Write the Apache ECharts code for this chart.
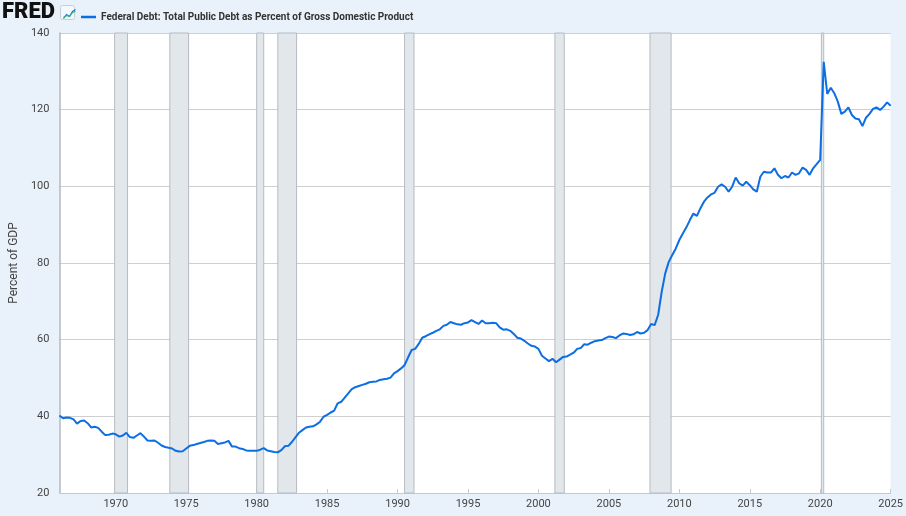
<!DOCTYPE html>
<html>
<head>
<meta charset="utf-8">
<script src="https://cdn.jsdelivr.net/npm/echarts@6/dist/echarts.min.js"></script>
<style>
html,body{margin:0;padding:0;background:#e9f1fa;}
#chart{width:906px;height:516px;}
</style>
</head>
<body>
<div id="chart"></div>
<script>
// Quarterly series, first quarter = 1966 Q1
const startYear = 1966;
const seriesName = 'Federal Debt: Total Public Debt as Percent of Gross Domestic Product';
const values1966_1975 = [40.2,39.5,39.7,39.6, 39.2,38.1,38.8,38.9, 38.2,37.1,37.3,37.0, 36.0,35.1,35.2,35.5,
  35.3,34.7,35.0,35.7, 34.6,34.4,35.0,35.6, 34.7,33.7,33.6,33.7, 33.1,32.4,32.0,31.8, 31.6,31.0,30.8,30.9, 31.6,32.3,32.5,32.8];
const values1976_1985 = [33.05,33.3,33.6,33.7, 33.6,32.8,33.0,33.2, 33.6,32.1,32.1,31.7, 31.5,31.1,31.0,31.0,
  31.0,31.3,31.7,31.1, 30.9,30.7,30.6,31.2, 32.2,32.3,33.3,34.5, 35.7,36.4,37.1,37.3, 37.4,37.9,38.6,39.9, 40.4,41.0,41.5,43.4];
const values1986_1995 = [43.8,44.9,46.0,47.1, 47.6,47.9,48.2,48.5, 48.9,49.0,49.1,49.5, 49.7,49.8,50.1,51.2,
  51.8,52.5,53.4,55.4, 57.3,57.6,58.9,60.5, 60.9,61.4,61.8,62.3, 62.7,63.6,63.9,64.6, 64.3,64.0,63.9,64.3, 64.5,65.1,64.6,64.1];
const values1996_2005 = [65.0,64.3,64.3,64.4, 64.3,63.2,62.6,62.7, 62.3,61.5,60.5,60.3, 59.7,59.0,58.4,58.2,
  57.6,55.8,55.1,54.4, 55.0,54.1,54.8,55.5, 55.6,56.1,56.6,57.6, 57.8,58.8,58.7,59.2, 59.6,59.8,59.9,60.4, 60.8,60.7,60.4,61.1];
const values2006_2015 = [61.6,61.5,61.2,61.4, 62.0,61.6,61.8,62.5, 64.1,63.8,66.5,72.5, 77.3,80.3,82.1,83.8,
  86.0,87.7,89.3,91.2, 92.9,92.3,94.3,96.0, 97.1,97.9,98.3,99.9, 100.5,99.9,98.6,99.9, 102.3,100.8,100.2,101.2, 100.3,99.2,98.6,102.5];
const values2016_2025 = [103.8,103.6,103.6,104.7, 103.0,102.1,102.7,102.3, 103.6,103.0,103.4,104.9, 104.3,103.0,104.7,105.8,
  106.9,132.5,124.1,125.7, 124.3,122.1,118.9,119.5, 120.6,118.6,117.7,117.5, 115.7,117.9,118.9,120.2, 120.6,119.9,120.8,121.9, 121.0];
const values = [].concat(values1966_1975, values1976_1985, values1986_1995, values1996_2005, values2006_2015, values2016_2025);

// NBER recessions (fractional years: peak month to trough month)
const recessionStarts = [1969.917, 1973.833, 1980.0, 1981.5, 1990.5, 2001.167, 2007.917, 2020.083];
const recessionEnds   = [1970.833, 1975.167, 1980.5, 1982.833, 1991.167, 2001.833, 2009.417, 2020.25];

const xTickLabels = [1970, 1975, 1980, 1985, 1990, 1995, 2000, 2005, 2010, 2015, 2020, 2025];
const yTicks = {min: 20, max: 140, interval: 20};

const seriesData = values.map((v, i) => [startYear + i / 4, v]);
const areas = recessionStarts.map((s, k) => [{xAxis: s}, {xAxis: recessionEnds[k]}]);

const chart = echarts.init(document.getElementById('chart'));
chart.setOption({
  backgroundColor: '#e9f1fa',
  animation: false,
  textStyle: {fontFamily: 'Roboto, "Noto Sans", sans-serif'},
  grid: {left: 58, right: 14, top: 33, bottom: 23, show: true, backgroundColor: '#ffffff', borderWidth: 0},
  legend: {
    show: true, left: 76, top: 7, icon: 'rect', itemWidth: 15, itemHeight: 2.5, itemGap: 5,
    textStyle: {fontSize: 10, fontWeight: 'bold', color: '#333', fontFamily: 'Roboto'},
    data: [seriesName]
  },
  graphic: [
    {type: 'text', left: 2, top: 1, style: {text: 'FRED', font: '900 22px Roboto', fill: '#111'}},
    {type: 'rect', left: 60, top: 5, shape: {width: 14, height: 14, r: 2}, style: {fill: '#f4f7fb', stroke: '#c9ced6', lineWidth: 1}},
    {type: 'polyline', left: 61, top: 7, shape: {points: [[0,10],[3,6],[6,8],[9,3],[12,1]]}, style: {stroke: '#1a73e8', lineWidth: 1.2, fill: null}},
    {type: 'polyline', left: 61, top: 9, shape: {points: [[0,10],[3,8],[6,9],[9,5],[12,4]]}, style: {stroke: '#2bb673', lineWidth: 1.2, fill: null}}
  ],
  xAxis: {
    type: 'value', min: 1966, max: 2025,
    axisLine: {show: true, lineStyle: {color: '#c5cad1', width: 1}},
    axisTick: {show: true, length: 4, inside: true, customValues: xTickLabels, lineStyle: {color: '#c5cad1'}},
    axisLabel: {customValues: xTickLabels, color: '#444', fontSize: 11, margin: 6, formatter: v => String(Math.round(v))},
    splitLine: {show: false}
  },
  yAxis: {
    type: 'value', min: yTicks.min, max: yTicks.max, interval: yTicks.interval,
    name: 'Percent of GDP', nameLocation: 'middle', nameGap: 38,
    nameTextStyle: {color: '#444', fontSize: 12},
    axisLine: {show: true, lineStyle: {color: '#b3b7bd', width: 1.5}},
    axisTick: {show: false},
    axisLabel: {color: '#444', fontSize: 11, margin: 10},
    splitLine: {show: true, lineStyle: {color: '#cfcfcf', width: 1}}
  },
  series: [{
    name: seriesName,
    type: 'line',
    data: seriesData,
    showSymbol: false,
    symbol: 'none',
    lineStyle: {color: '#0b6ee3', width: 2},
    itemStyle: {color: '#0b6ee3'},
    z: 5,
    markArea: {
      silent: true,
      itemStyle: {color: '#e2e7ec', borderColor: '#b7bbc1', borderWidth: 1},
      data: areas
    }
  }]
});
</script>
</body>
</html>
